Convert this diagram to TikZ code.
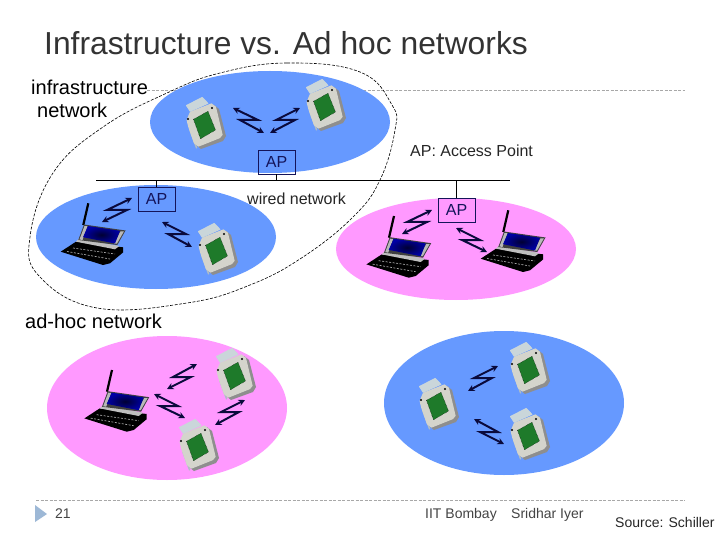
\documentclass[tikz,border=0pt]{standalone}
\usepackage{fontspec}
\setmainfont{Liberation Sans}
\definecolor{netblue}{HTML}{6699FF}
\definecolor{netpink}{HTML}{FF99FF}
\definecolor{navy}{HTML}{14145A}
\definecolor{zigcol}{HTML}{0A0A3C}
\definecolor{cardgray}{HTML}{D4D4CC}
\definecolor{cardshadow}{HTML}{8E8E8E}
\definecolor{cardgreen}{HTML}{1E7A2A}
\definecolor{capblue}{HTML}{C4D8E4}
\definecolor{rulegray}{HTML}{A8A8A8}
\definecolor{tri}{HTML}{9DB8D6}
\definecolor{foot}{HTML}{444444}
\newcommand{\fs}[1]{\fontsize{#1}{#1}\selectfont}
\newcommand{\zigzag}[5]{%
  \coordinate (#1a) at (#2); \coordinate (#1b) at (#5);
  \draw[zig] (#1a) -- (#3) -- (#4) -- (#1b);}
\usetikzlibrary{arrows.meta}
\tikzset{
  x=1pt,y=-1pt,
  zig/.style={draw=zigcol,line width=2pt,line join=miter,{Stealth[length=6.5pt,width=6.5pt]}-{Stealth[length=6.5pt,width=6.5pt]}},
  apbox/.style={draw=navy,line width=.8pt,minimum width=37pt,minimum height=24pt,inner sep=0pt,text=navy,font=\fs{16}},
  lbl/.style={anchor=base west,inner sep=0pt,text=#1},
  lbl/.default=black,
  cardpic/.pic={
    \fill[cardshadow] (-13,-8)--(11,-17)--(16,-13)--(23,14)--(20,19)--(-2,27)--(-7,23)--cycle;
    \draw[capblue!70!gray,line width=1.4pt] (-13,8)--(-6.3,26.3);
    \filldraw[cardgray,line width=1.2pt,line join=round] (-15.8,-2)--(-12.5,-9.8)--(8.4,-18)--(12.4,-15)--(19,12.6)--(16.6,15.6)--(-4.5,24)--(-8.6,20.8)--(-14.2,4.7)--cycle;
    \filldraw[capblue!60!cardgray,line width=1pt,line join=round] (-16.5,-16.5)--(-.8,-24.5)--(4.8,-18.7)--(-12.8,-10.8)--cycle;
    \fill[black] (-15,-3) circle (1.2);
    \fill[black] (9,-14) circle (1.2);
    \fill[cardgreen,draw=black,line width=.4pt,densely dotted] (-9.5,-2.7)--(5,-10.8)--(12.5,8)--(-2.5,16.8)--cycle;
  },
  lappic/.pic={
    \draw[black,line width=2.2pt] (-1.7,-36.7)--(-6.7,-15);
    \fill[black] (-29.3,11.7)--(-14,1.7)--(33,7.3)--(33,12.5)--(20,23.3)--(13,25)--cycle;
    \draw[gray!70,line width=.7pt,dash pattern=on 2pt off 1.5pt] (-23,11.5)--(20,19);
    \draw[gray!70,line width=.7pt,dash pattern=on 2pt off 1.5pt] (-17,8)--(25,14);
    \fill[gray!50] (-14,1.7)--(-10.7,-1.7)--(29.3,6)--(25,9.3)--cycle;
    \fill[black!75] (-11.7,0)--(-6,-15.5)--(35.5,-9.5)--(27.3,5)--cycle;
    \fill[gray!55] (-10.5,-.5)--(-5.5,-14)--(-2.5,-13.7)--(-7.5,0)--cycle;
    \fill[gray!55] (30.5,-8.7)--(34,-8.7)--(27,3.5)--(24,3.5)--cycle;
    \shade[inner color=black!80!blue,outer color=blue!65!black] (-7,-2.8)--(-2,-14)--(30,-9.2)--(25,3.5)--cycle;
  }
}
\begin{document}
\begin{tikzpicture}
\useasboundingbox (0,0) rectangle (720,540);
\fill[white] (0,0) rectangle (720,540);
% rules
\coordinate (ruleA) at (147,90); \coordinate (ruleB) at (685,90);
\coordinate (footA) at (36,500); \coordinate (footB) at (685,500);
\draw[rulegray,line width=.7pt,dash pattern=on 3pt off 1.5pt] (ruleA)--(ruleB);
\draw[rulegray,line width=.7pt,dash pattern=on 3pt off 1.5pt] (footA)--(footB);
% ellipses
\fill[netblue] (270,122) ellipse [x radius=120,y radius=51];
\fill[netblue] (156,237) ellipse [x radius=120,y radius=52];
\fill[netpink] (456,249) ellipse [x radius=120,y radius=51];
\fill[netpink] (167,408) ellipse [x radius=120,y radius=72];
\fill[netblue] (504,403) ellipse [x radius=120,y radius=72];
% enclosing dashed outline
\draw[black,line width=.6pt,dash pattern=on 3pt off 1.5pt]
  plot[smooth cycle,tension=.7] coordinates {(220,73)(287,63)(360,72)(392,105)(395,130)(380,180)(353,217)(303,257)(250,285)(187,303)(97,308)(40,277)(30,237)(53,173)(103,127)(167,93)};
% wire
\coordinate (wireL) at (96,180); \coordinate (wireR) at (510,180);
\draw[black,line width=.8pt] (wireL)--(wireR);
% AP boxes
\node[apbox] (ap1) at (276.5,162) {AP};
\node[apbox] (ap2) at (156.5,199) {AP};
\node[apbox] (ap3) at (456.5,210) {AP};
\draw[black,line width=.8pt] (ap1.south)--(ap1.south |- wireL);
\draw[black,line width=.8pt] (ap2.north)--(ap2.north |- wireL);
\draw[black,line width=.8pt] (ap3.north)--(ap3.north |- wireL);
% devices
\pic (c1) at (203,122) {cardpic};
\pic (c2) at (323,104) {cardpic};
\pic (c3) at (215,248) {cardpic};
\pic (c4) at (233,373) {cardpic};
\pic (c5) at (196,444) {cardpic};
\pic (c6) at (436,403) {cardpic};
\pic (c7) at (527,367) {cardpic};
\pic (c8) at (527,433) {cardpic};
\pic (l1) at (90,240) {lappic};
\pic (l2) at (395.7,252.7) {lappic};
\pic (l3) at (510,247) {lappic};
\pic (l4) at (113.7,406.7) {lappic};
% radio links
\zigzag{z1}{233,108}{258,120}{240,120}{264,133}
\zigzag{z2}{300,108}{276,120}{295,120}{270,133}
\zigzag{z3}{132,198}{107,210}{127,210}{102,222}
\zigzag{z4}{162,222}{186,234}{168,234}{192,247}
\zigzag{z5}{432,210}{407,222}{427,222}{402,234}
\zigzag{z6}{456,228}{480,240}{462,240}{487,252}
\zigzag{z7}{197,364}{173,377}{191,377}{167,389}
\zigzag{z8}{154,394}{178,406}{160,406}{185,418}
\zigzag{z9}{245,400}{221,412}{239,412}{215,425}
\zigzag{z10}{498,366}{474,378}{492,378}{468,391}
\zigzag{z11}{474,419}{498,432}{480,432}{504,444}
% labels
\node[lbl={black!80},font=\fs{31.8}] (title) at (44,55) {Infrastructure vs. Ad hoc networks};
\node[lbl,font=\fs{20}] (infra) at (31,95) {infrastructure};
\node[lbl,font=\fs{20}] (netw) at (37,118) {network};
\node[lbl,font=\fs{20}] (adhoc) at (25,328) {ad-hoc network};
\node[lbl=black!85,font=\fs{16}] (legend) at (410,157) {AP: Access Point};
\node[lbl=black!85,font=\fs{16}] (wired) at (247,205) {wired network};
% footer
\fill[tri] (35,505)--(47,514)--(35,522)--cycle;
\node[lbl=foot,font=\fs{14}] (page) at (55,518) {21};
\node[lbl=foot,font=\fs{14}] (iit) at (425,518) {IIT Bombay};
\node[lbl=foot,font=\fs{14}] (sri) at (511,518) {Sridhar Iyer};
\node[lbl=black!85,font=\fs{14}] (src) at (615,527) {Source: Schiller};
\end{tikzpicture}
\end{document}
